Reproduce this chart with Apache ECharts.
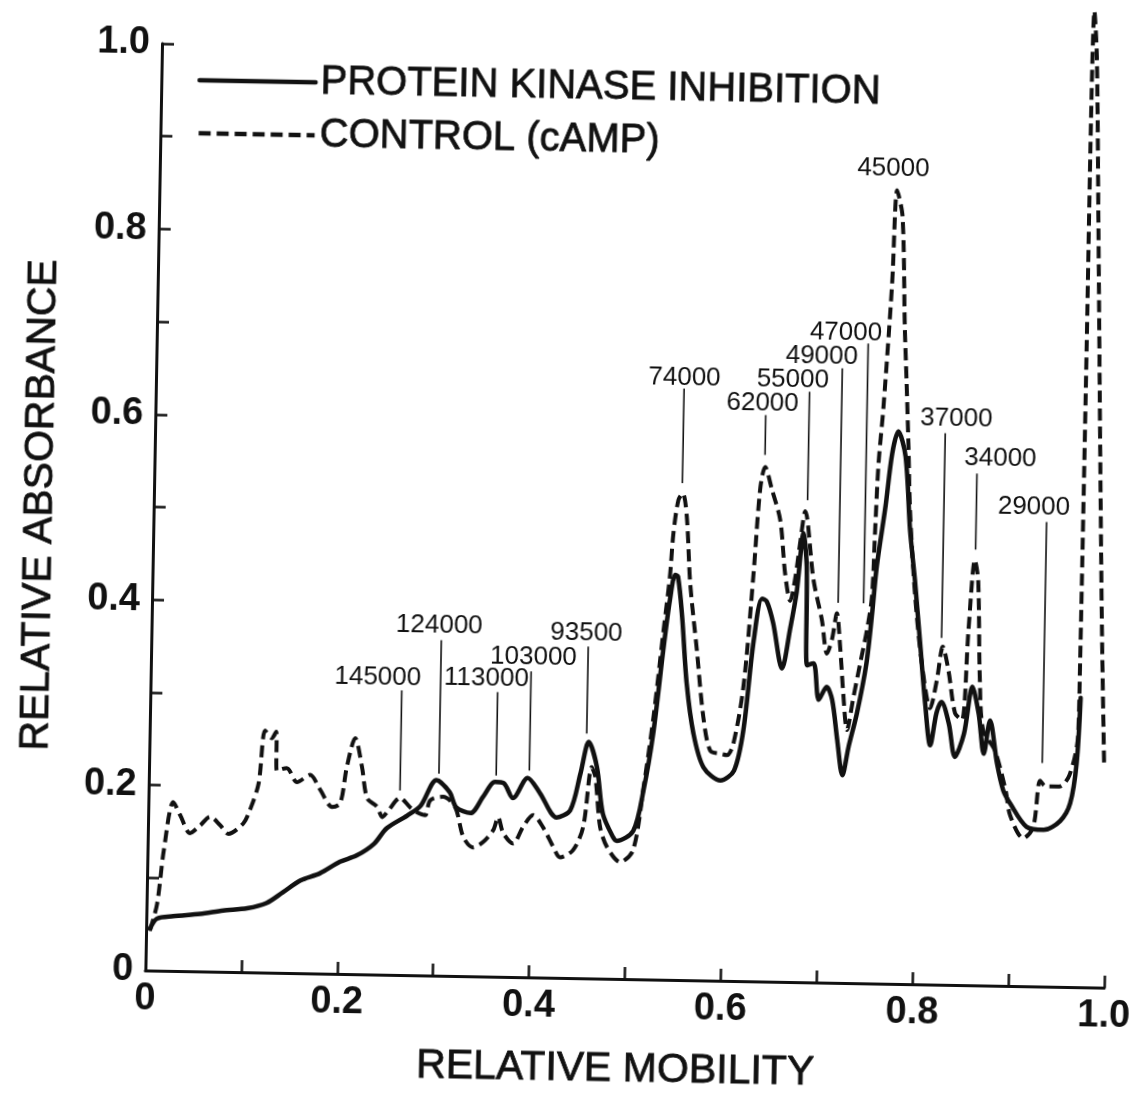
<!DOCTYPE html>
<html>
<head>
<meta charset="utf-8">
<script src="https://cdn.jsdelivr.net/npm/echarts@6/dist/echarts.min.js"></script>
<style>
html,body{margin:0;padding:0;background:#fff;overflow:hidden;}
#c{width:1142px;height:1099px;transform:rotate(1.03deg);transform-origin:571px 549.5px;}
</style>
</head>
<body>
<div id="c"></div>
<script>
// ---- Data (relative mobility, relative absorbance) ----
const inhibitionX = [0.004,0.011,0.028,0.056,0.080,0.105,0.125,0.142,0.160,0.180,0.201,0.218,0.236,0.249,0.270,0.284,0.300,0.314,0.321,0.336,0.349,0.361,0.370,0.380,0.395,0.408,0.426,0.440,0.450,0.458,0.467,0.474,0.485,0.489,0.506,0.516,0.525,0.534,0.540,0.545,0.548,0.553,0.559,0.567,0.578,0.596,0.610,0.619,0.628,0.636,0.641,0.648,0.658,0.666,0.672,0.678,0.682,0.684,0.691,0.697,0.705,0.711,0.717,0.723,0.729,0.737,0.746,0.751,0.755,0.763,0.769,0.775,0.783,0.789,0.795,0.802,0.808,0.814,0.820,0.825,0.833,0.840,0.849,0.857,0.864,0.870,0.876,0.884,0.891,0.899,0.916,0.934,0.951,0.961,0.967,0.970];
const inhibitionY = [0.045,0.056,0.059,0.062,0.066,0.069,0.075,0.087,0.100,0.108,0.121,0.128,0.141,0.158,0.172,0.183,0.211,0.198,0.182,0.176,0.194,0.210,0.209,0.193,0.215,0.199,0.173,0.181,0.221,0.255,0.228,0.178,0.153,0.149,0.160,0.204,0.265,0.356,0.410,0.437,0.435,0.392,0.320,0.266,0.230,0.216,0.227,0.271,0.367,0.413,0.410,0.387,0.338,0.382,0.421,0.484,0.448,0.342,0.344,0.305,0.319,0.305,0.262,0.224,0.255,0.291,0.345,0.399,0.450,0.515,0.572,0.596,0.569,0.490,0.436,0.364,0.303,0.258,0.293,0.305,0.282,0.246,0.271,0.322,0.293,0.250,0.286,0.240,0.211,0.196,0.172,0.169,0.179,0.198,0.241,0.312];

const controlX = [0.004,0.011,0.017,0.026,0.0335,0.044,0.0545,0.0646,0.0753,0.084,0.0994,0.106,0.1146,0.1204,0.1275,0.132,0.1332,0.1436,0.1545,0.168,0.179,0.1917,0.200,0.2062,0.2145,0.222,0.228,0.2385,0.2442,0.2502,0.2624,0.273,0.280,0.2888,0.2938,0.3072,0.320,0.329,0.3394,0.3497,0.360,0.365,0.3705,0.381,0.391,0.4014,0.412,0.423,0.4303,0.4436,0.4537,0.4616,0.4656,0.4714,0.479,0.493,0.5062,0.516,0.525,0.5336,0.5395,0.5424,0.547,0.5514,0.556,0.5608,0.569,0.577,0.5848,0.5953,0.6023,0.6088,0.6183,0.6266,0.632,0.6368,0.6442,0.6535,0.6596,0.6654,0.6701,0.6747,0.6794,0.6893,0.6988,0.7047,0.7096,0.7143,0.7183,0.7227,0.7269,0.7332,0.7395,0.7459,0.7505,0.7526,0.7549,0.759,0.7657,0.7692,0.7753,0.7798,0.7825,0.7858,0.7888,0.7956,0.8038,0.8133,0.8197,0.8254,0.8317,0.8394,0.8467,0.8518,0.8572,0.861,0.8646,0.869,0.8814,0.8935,0.8987,0.9127,0.923,0.9293,0.9355,0.9493,0.9598,0.9681,0.9688,0.9693,0.9697,0.9700,0.9715,0.9749,0.9798,0.986,0.991,0.9957];
const controlY = [0.043,0.072,0.130,0.182,0.168,0.149,0.1575,0.167,0.158,0.149,0.1605,0.175,0.204,0.261,0.253,0.260,0.218,0.221,0.206,0.214,0.198,0.180,0.184,0.223,0.2545,0.224,0.190,0.181,0.170,0.177,0.191,0.181,0.176,0.173,0.189,0.193,0.182,0.150,0.139,0.145,0.158,0.172,0.155,0.144,0.162,0.175,0.162,0.141,0.130,0.138,0.163,0.228,0.217,0.1635,0.142,0.126,0.139,0.2075,0.283,0.374,0.435,0.482,0.518,0.525,0.500,0.428,0.356,0.284,0.248,0.245,0.2435,0.256,0.3185,0.439,0.531,0.555,0.531,0.498,0.440,0.411,0.435,0.474,0.508,0.434,0.391,0.355,0.370,0.3985,0.3625,0.309,0.273,0.309,0.345,0.381,0.417,0.489,0.561,0.622,0.755,0.856,0.828,0.707,0.652,0.580,0.508,0.418,0.346,0.298,0.328,0.3645,0.339,0.293,0.286,0.383,0.459,0.437,0.329,0.275,0.254,0.211,0.184,0.1595,0.172,0.222,0.216,0.216,0.2285,0.272,0.353,0.508,0.694,0.942,1.053,1.004,0.818,0.570,0.384,0.2415];

// Molecular-weight annotations
const annoNames  = ['145000','124000','113000','103000','93500','74000','62000','55000','49000','47000','45000','37000','34000','29000'];
const annoLineX  = [0.2621,0.3024,0.3621,0.3966,0.4557,0.5508,0.6364,0.6816,0.7154,0.7419,null,0.8239,0.8577,0.9312];
const annoTop    = [0.307,0.362,0.307,0.330,0.358,0.638,0.611,0.637,0.663,0.690,null,0.595,0.552,0.501];
const annoBottom = [0.199,0.218,0.217,0.223,0.264,0.536,0.568,0.520,0.410,0.410,null,0.374,0.470,0.241];
const annoLabelX = [0.2368,0.300,0.3501,0.3988,0.4535,0.551,0.6328,0.664,0.6938,0.7185,0.7649,0.8352,0.8818,0.9177];
const annoLabelY = [0.321,0.378,0.3215,0.3454,0.372,0.650,0.624,0.650,0.6755,0.7017,0.879,0.611,0.569,0.5165];

const seriesNames = ['PROTEIN KINASE INHIBITION','CONTROL (cAMP)'];

// ---- Chart ----
const FONT = "'Liberation Sans', Arial, Helvetica, sans-serif";
const INK = '#111';
const chart = echarts.init(document.getElementById('c'), null, {renderer:'canvas'});

function tickLabel(v){
  const k = Math.round(v*10);
  if (k % 2) return '';
  return k === 0 ? '0' : (k/10).toFixed(1);
}

const axisCommon = {
  type:'value', min:0, max:1, interval:0.1,
  axisLine:{show:true, lineStyle:{color:INK, width:3}},
  axisTick:{show:true, inside:true, length:12, lineStyle:{color:INK, width:2.5}},
  splitLine:{show:false},
  axisLabel:{formatter:tickLabel, color:INK, fontFamily:FONT, fontSize:38, fontWeight:'bold', margin:10, showMinLabel:true, showMaxLabel:true},
  nameLocation:'middle',
  nameTextStyle:{color:INK, fontFamily:FONT, fontSize:41, textBorderColor:INK, textBorderWidth:0.8}
};

const option = {
  backgroundColor:'#fff',
  animation:false,
  grid:{left:153, right:30, top:51, bottom:121},
  legend:{
    orient:'vertical', left:184, top:60,
    itemWidth:116, itemHeight:14, itemGap:9,
    data:seriesNames,
    itemStyle:{color:'rgba(0,0,0,0)', borderColor:'rgba(0,0,0,0)', borderWidth:0},
    lineStyle:{width:4.5},
    textStyle:{color:INK, fontFamily:FONT, fontSize:40, lineHeight:44, textBorderColor:INK, textBorderWidth:0.8},
    selectedMode:false
  },
  xAxis:Object.assign({}, axisCommon, {
    name:'RELATIVE MOBILITY', nameGap:70,
    nameTextStyle:Object.assign({}, axisCommon.nameTextStyle, {padding:[0,16,0,0]})
  }),
  yAxis:Object.assign({}, axisCommon, {
    name:'RELATIVE ABSORBANCE', nameGap:93, nameRotate:90,
    axisLabel:Object.assign({}, axisCommon.axisLabel, {margin:12})
  }),
  series:[
    {
      name:seriesNames[0], type:'line', showSymbol:false, symbol:'none',
      smooth:0.3, clip:false,
      data:inhibitionX.map((x,i)=>[x, inhibitionY[i]]),
      lineStyle:{color:INK, width:4.5, type:'solid', cap:'round', join:'round'},
      itemStyle:{color:INK}, z:3
    },
    {
      name:seriesNames[1], type:'line', showSymbol:false, symbol:'none',
      smooth:0.3, clip:false,
      data:controlX.map((x,i)=>[x, controlY[i]]),
      lineStyle:{color:INK, width:4, type:[12,6], join:'round'},
      itemStyle:{color:INK}, z:2
    },
    {
      type:'custom', name:'annotations', clip:false, z:4,
      data:annoNames.map((n,i)=>[annoLabelX[i], annoLabelY[i], i]),
      encode:{x:0, y:1},
      renderItem:function(params, api){
        const i = api.value(2);
        const children = [];
        if (annoLineX[i] !== null){
          const p1 = api.coord([annoLineX[i], annoTop[i]]);
          const p2 = api.coord([annoLineX[i], annoBottom[i]]);
          children.push({type:'line', shape:{x1:p1[0], y1:p1[1], x2:p2[0], y2:p2[1]},
            style:{stroke:INK, lineWidth:1.6}});
        }
        const t = api.coord([annoLabelX[i], annoLabelY[i]]);
        children.push({type:'text', x:t[0], y:t[1],
          style:{text:annoNames[i], fill:INK, font:'26px ' + FONT, align:'center', verticalAlign:'middle'}});
        return {type:'group', children:children};
      }
    }
  ]
};
chart.setOption(option);
</script>
</body>
</html>
